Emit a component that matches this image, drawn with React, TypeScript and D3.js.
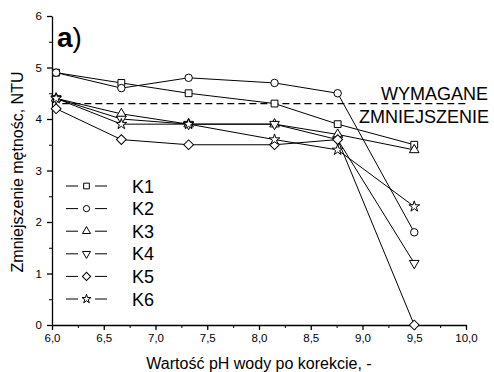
import { useEffect, useRef } from "react";
import * as d3 from "d3";

// pH after correction (same for every series)
const phValues = [6.04, 6.67, 7.32, 8.15, 8.76, 9.5];

const seriesNames = ["K1", "K2", "K3", "K4", "K5", "K6"];
const k1 = [4.9, 4.7, 4.5, 4.3, 3.9, 3.5];
const k2 = [4.9, 4.6, 4.8, 4.7, 4.5, 1.8];
const k3 = [4.4, 4.1, 3.9, 3.9, 3.7, 3.4];
const k4 = [4.4, 4.0, 3.9, 3.9, 3.6, 1.2];
const k5 = [4.2, 3.6, 3.5, 3.5, 3.6, 0];
const k6 = [4.4, 3.9, 3.9, 3.6, 3.4, 2.3];
const seriesValues = [k1, k2, k3, k4, k5, k6];

const requiredReduction = 4.3;
const xTicks = [6, 6.5, 7, 7.5, 8, 8.5, 9, 9.5, 10];
const yTicks = [0, 1, 2, 3, 4, 5, 6];

const FONT = "'Liberation Sans', Arial, sans-serif";

// marker per series: [d3 symbol type, size, rotation]
const markers: [d3.SymbolType, number, number][] = [
  [d3.symbolSquare, 46, 0],
  [d3.symbolCircle, 44, 0],
  [d3.symbolTriangle, 40, 0],
  [d3.symbolTriangle, 40, 180],
  [d3.symbolSquare, 48, 45],
  [d3.symbolStar, 36, 0],
];

export default function App() {
  const svgRef = useRef<SVGSVGElement>(null);
  const width = 494;
  const height = 372;

  useEffect(() => {
    const svg = d3.select(svgRef.current);
    svg.selectAll("*").remove();

    const x = d3.scaleLinear().domain([6, 10]).range([52, 466]);
    const y = d3.scaleLinear().domain([0, 6]).range([325, 16]);
    const comma = (d: d3.NumberValue) => d3.format(".1f")(d as number).replace(".", ",");

    // minor ticks first
    svg.append("g")
      .attr("transform", `translate(0,${y(0)})`)
      .call(d3.axisBottom(x).tickValues(d3.range(6.25, 10, 0.5)).tickSize(3).tickSizeOuter(0).tickFormat(() => ""))
      .call(g => g.select(".domain").remove());
    svg.append("g")
      .attr("transform", `translate(${x(6)},0)`)
      .call(d3.axisLeft(y).tickValues(d3.range(0.5, 6, 1)).tickSize(3).tickSizeOuter(0).tickFormat(() => ""))
      .call(g => g.select(".domain").remove());

    const xAxis = svg.append("g")
      .attr("transform", `translate(0,${y(0)})`)
      .call(d3.axisBottom(x).tickValues(xTicks).tickSize(5).tickSizeOuter(0).tickPadding(4).tickFormat(comma));
    const yAxis = svg.append("g")
      .attr("transform", `translate(${x(6)},0)`)
      .call(d3.axisLeft(y).tickValues(yTicks).tickSize(5).tickSizeOuter(0).tickPadding(5).tickFormat(d3.format("d")));

    [xAxis, yAxis].forEach(a => {
      a.attr("font-family", FONT).attr("font-size", 11.5);
      a.selectAll("text").attr("fill", "#000");
      a.selectAll("line, path").attr("stroke", "#000").attr("stroke-width", 1.3);
    });

    // required reduction threshold
    svg.append("line")
      .attr("x1", x(6.1)).attr("x2", x(10))
      .attr("y1", y(requiredReduction)).attr("y2", y(requiredReduction))
      .attr("stroke", "#000").attr("stroke-width", 1.2)
      .attr("stroke-dasharray", "7,4");

    const line = d3.line<number>()
      .x((_, i) => x(phValues[i]))
      .y(d => y(d));

    seriesValues.forEach(vals => {
      svg.append("path")
        .attr("d", line(vals))
        .attr("fill", "none")
        .attr("stroke", "#000")
        .attr("stroke-width", 1);
    });

    seriesValues.forEach((vals, si) => {
      const [type, size, rot] = markers[si];
      svg.append("g").selectAll("path")
        .data(vals)
        .join("path")
        .attr("d", d3.symbol().type(type).size(size)())
        .attr("transform", (d, i) => `translate(${x(phValues[i])},${y(d)}) rotate(${rot})`)
        .attr("fill", "#fff")
        .attr("stroke", "#000")
        .attr("stroke-width", 1);
    });

    // legend
    const legend = svg.append("g").attr("font-family", FONT).attr("font-size", 18);
    seriesNames.forEach((name, i) => {
      const [type, size, rot] = markers[i];
      const ly = 186 + i * 22.6;
      legend.append("line")
        .attr("x1", 66).attr("x2", 78).attr("y1", ly).attr("y2", ly)
        .attr("stroke", "#000").attr("stroke-width", 1);
      legend.append("line")
        .attr("x1", 95).attr("x2", 107).attr("y1", ly).attr("y2", ly)
        .attr("stroke", "#000").attr("stroke-width", 1);
      legend.append("path")
        .attr("d", d3.symbol().type(type).size(size * 0.7)())
        .attr("transform", `translate(86.5,${ly}) rotate(${rot})`)
        .attr("fill", "#fff").attr("stroke", "#000").attr("stroke-width", 1);
      legend.append("text")
        .attr("x", 132).attr("y", ly + 6.5)
        .attr("fill", "#000")
        .text(name);
    });

    // annotations
    const note = svg.append("g").attr("font-family", FONT).attr("font-size", 18).attr("text-anchor", "end");
    note.append("text").attr("x", 488).attr("y", 100).text("WYMAGANE");
    note.append("text").attr("x", 489).attr("y", 123).text("ZMNIEJSZENIE");

    const label = svg.append("text").attr("x", 57).attr("y", 47).attr("font-family", FONT).attr("font-size", 28);
    label.append("tspan").attr("font-weight", "bold").text("a");
    label.append("tspan").text(")");

    // axis titles
    svg.append("text")
      .attr("x", 259).attr("y", 369)
      .attr("text-anchor", "middle")
      .attr("font-family", FONT).attr("font-size", 16)
      .text("Wartość pH wody po korekcie, -");
    svg.append("text")
      .attr("transform", `translate(23,172) rotate(-90)`)
      .attr("text-anchor", "middle")
      .attr("font-family", FONT).attr("font-size", 16)
      .text("Zmniejszenie mętnośc, NTU");
  }, []);

  return (
    <svg
      ref={svgRef}
      width={width}
      height={height}
      style={{ position: "absolute", left: 0, top: 0, background: "#fff" }}
    ></svg>
  );
}
